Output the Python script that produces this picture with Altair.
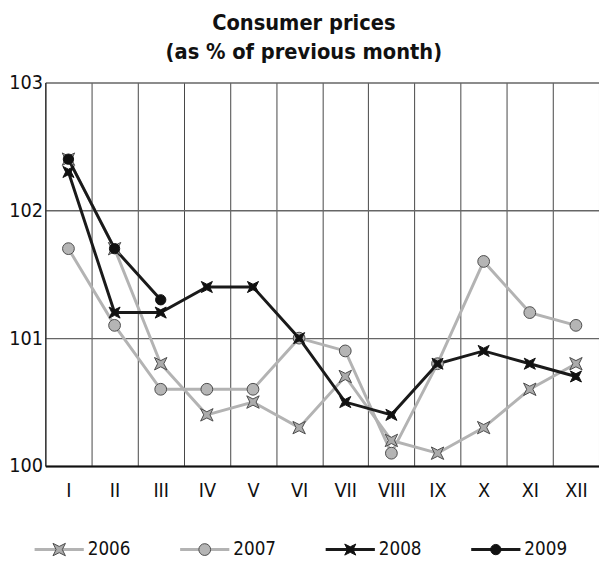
import altair as alt
import pandas as pd

months = ["I", "II", "III", "IV", "V", "VI", "VII", "VIII", "IX", "X", "XI", "XII"]
years = ["2006", "2007", "2008", "2009"]
v2006 = [102.4, 101.7, 100.8, 100.4, 100.5, 100.3, 100.7, 100.2, 100.1, 100.3, 100.6, 100.8]
v2007 = [101.7, 101.1, 100.6, 100.6, 100.6, 101.0, 100.9, 100.1, 100.8, 101.6, 101.2, 101.1]
v2008 = [102.3, 101.2, 101.2, 101.4, 101.4, 101.0, 100.5, 100.4, 100.8, 100.9, 100.8, 100.7]
v2009 = [102.4, 101.7, 101.3]
y_ticks = [100, 101, 102, 103]

FONT = "DejaVu Sans Condensed, DejaVu Sans, sans-serif"
STAR = "M-1,-1L0,-0.5L1,-1L0.5,0L1,1L0,0.5L-1,1L-0.5,0Z"

rows = []
for yr, vals in zip(years, [v2006, v2007, v2008, v2009]):
    for m, v in zip(months, vals):
        rows.append({"series": yr, "month": m, "value": v})
df = pd.DataFrame(rows)

line_colors = ["#b3b3b3", "#b3b3b3", "#1a1a1a", "#1a1a1a"]
line_widths = [3, 3, 2, 3]
fill_colors = ["#ababab", "#b5b5b5", "#111111", "#111111"]
stroke_colors = ["#4a4a4a", "#4a4a4a", "#111111", "#111111"]
shapes = [STAR, "circle", STAR, "circle"]

color_s = alt.Scale(domain=years, range=line_colors)
width_s = alt.Scale(domain=years, range=line_widths)
fill_s = alt.Scale(domain=years, range=fill_colors)
stroke_s = alt.Scale(domain=years, range=stroke_colors)
shape_s = alt.Scale(domain=years, range=shapes)

x_enc = alt.X(
    "month:O",
    sort=months,
    scale=alt.Scale(domain=months, paddingInner=0, paddingOuter=0),
    axis=alt.Axis(
        title=None, tickBand="extent", grid=True, gridColor="#444444", gridWidth=1,
        ticks=False, labelAngle=0, labelFont=FONT, labelFontSize=20,
        labelColor="#111111", labelPadding=15, domainColor="#111111", domainWidth=2,
    ),
)
y_enc = alt.Y(
    "value:Q",
    scale=alt.Scale(domain=[100, 103], nice=False, zero=False),
    axis=alt.Axis(
        title=None, values=y_ticks, grid=True, gridColor="#666666", gridWidth=1.5,
        ticks=False, labelFont=FONT, labelFontSize=20, labelColor="#111111",
        labelPadding=3, domainColor="#111111", domainWidth=1,
    ),
)

lines = alt.Chart(df).mark_line().encode(
    x=x_enc, y=y_enc,
    color=alt.Color("series:N", scale=color_s, legend=None),
    strokeWidth=alt.StrokeWidth("series:O", scale=width_s, legend=None),
    order=alt.Order("series:N"),
)
points = alt.Chart(df).mark_point(filled=True, opacity=1, strokeWidth=1).encode(
    x=x_enc, y=y_enc,
    shape=alt.Shape("series:N", scale=shape_s, legend=None),
    fill=alt.Fill("series:N", scale=fill_s, legend=None),
    stroke=alt.Stroke("series:N", scale=stroke_s, legend=None),
    size=alt.Size("series:N", scale=alt.Scale(domain=years, range=[160, 110, 160, 110]), legend=None),
)
main = alt.layer(lines, points).properties(width=563, height=390)

leg_df = pd.DataFrame({"series": years, "i": list(range(len(years))), "row": ["a"] * len(years)})
lx = alt.Scale(domain=[-0.095, 3.709])
leg_base = alt.Chart(leg_df).encode(
    y=alt.Y("row:N", axis=None, title=None),
)
leg_rule = leg_base.transform_calculate(x0="datum.i - 0.169", x1="datum.i + 0.169").mark_rule().encode(
    x=alt.X("x0:Q", scale=lx, axis=None, title=None),
    x2="x1:Q",
    color=alt.Color("series:N", scale=color_s, legend=None),
    strokeWidth=alt.StrokeWidth("series:O", scale=width_s, legend=None),
)
leg_pt = leg_base.mark_point(filled=True, opacity=1, strokeWidth=1).encode(
    x=alt.X("i:Q", scale=lx, axis=None, title=None),
    shape=alt.Shape("series:N", scale=shape_s, legend=None),
    fill=alt.Fill("series:N", scale=fill_s, legend=None),
    stroke=alt.Stroke("series:N", scale=stroke_s, legend=None),
    size=alt.Size("series:N", scale=alt.Scale(domain=years, range=[500, 320, 500, 320]), legend=None),
)
leg_txt = leg_base.transform_calculate(xt="datum.i + 0.196").mark_text(
    align="left", baseline="middle", font=FONT, fontSize=19, color="#111111"
).encode(
    x=alt.X("xt:Q", scale=lx, axis=None, title=None),
    text="series:N",
)
legend = alt.layer(leg_rule, leg_pt, leg_txt).properties(width=563, height=26)

chart = alt.vconcat(main, legend, spacing=37).properties(
    title=alt.TitleParams(
        text=["Consumer prices", "(as % of previous month)"],
        font=FONT, fontSize=22, fontWeight="bold", color="#111111",
        anchor="middle", frame="bounds", lineHeight=29, offset=9,
    ),
    padding={"left": 0, "top": 0, "right": 0, "bottom": 0},
).configure_view(stroke=None)

chart.save("out.html", embed_options={"renderer": "svg", "actions": False})
